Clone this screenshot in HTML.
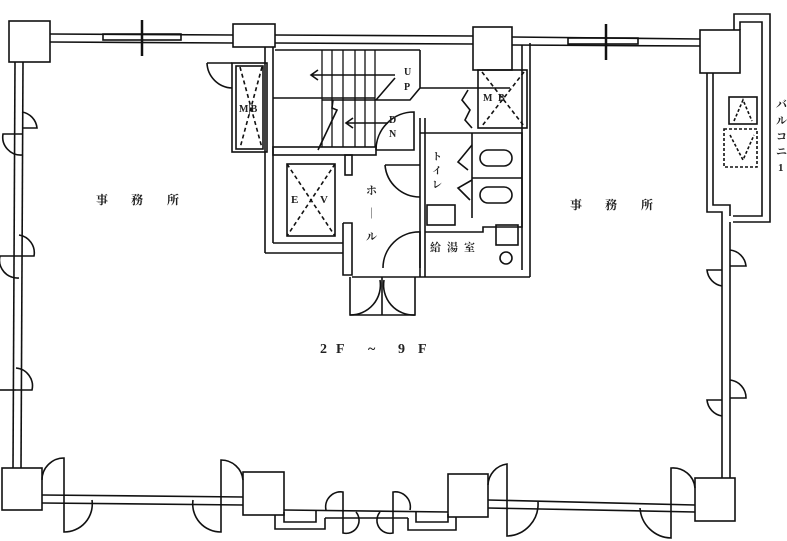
<!DOCTYPE html>
<html><head><meta charset="utf-8"><style>
html,body{margin:0;padding:0;background:#fff;}
svg{display:block;}
text{font-family:"Liberation Serif","Noto Serif CJK SC","Noto Sans CJK JP",serif;fill:#222;}
</style></head><body>
<svg width="787" height="541" viewBox="0 0 787 541" xmlns="http://www.w3.org/2000/svg">
<g fill="none" stroke="#111" stroke-width="1.6">
<line x1="50" y1="34" x2="233" y2="35"/><line x1="50" y1="42" x2="233" y2="43"/>
<line x1="275" y1="35" x2="473" y2="36"/><line x1="275" y1="43" x2="473" y2="44"/>
<line x1="512" y1="37" x2="700" y2="39"/><line x1="512" y1="45" x2="700" y2="46"/>
<rect x="103" y="34" width="78" height="6"/><rect x="568" y="38" width="70" height="6"/>
<line x1="142" y1="20" x2="142" y2="56" stroke-width="2.5"/><line x1="606" y1="24" x2="606" y2="60" stroke-width="2.5"/>
<rect x="9" y="21" width="41" height="41"/>
<rect x="233" y="24" width="42" height="23"/>
<rect x="473" y="27" width="39" height="43"/>
<rect x="700" y="30" width="40" height="43"/>
<rect x="2" y="468" width="40" height="42"/>
<rect x="243" y="472" width="41" height="43"/>
<rect x="448" y="474" width="40" height="43"/>
<rect x="695" y="478" width="40" height="43"/>
<line x1="15" y1="62" x2="13" y2="468"/><line x1="23" y1="62" x2="21" y2="468"/>
<line x1="722" y1="222" x2="722" y2="478"/><line x1="730" y1="222" x2="730" y2="478"/>
<path d="M734 30 V14 H770 V222 H733"/>
<path d="M740 30 V22 H762 V216 H733"/>
<path d="M707 73 V212 H722 V222"/>
<path d="M713 73 V205 H730 V216"/>
<rect x="729" y="97" width="28" height="27"/>
<g stroke-dasharray="3,2"><path d="M734 121 L743 100 L752 121"/><rect x="724" y="129" width="33" height="38"/><path d="M730 135 L743 160 L754 135"/></g>
<line x1="42" y1="495" x2="243" y2="497"/><line x1="42" y1="503" x2="243" y2="505"/>
<line x1="488" y1="500" x2="695" y2="505"/><line x1="488" y1="508" x2="695" y2="512"/>
<line x1="284" y1="510" x2="448" y2="512"/><line x1="325" y1="518" x2="408" y2="518"/>
<path d="M284 512 V522 H316 V510"/><path d="M275 515 V529 H325 V518"/>
<path d="M448 514 V522 H416 V512"/><path d="M456 517 V530 H408 V518"/>
<path d="M42 480 A22 22 0 0 1 64 458 V500"/><path d="M64 500 V532 A28 28 0 0 0 92 500"/>
<path d="M243 480 A22 22 0 0 0 221 460 V505"/><path d="M221 505 V532 A28 28 0 0 1 193 500"/>
<path d="M326 510 A15 15 0 0 1 343 492 V533 A13 13 0 0 0 356 512"/>
<path d="M410 510 A15 15 0 0 0 393 492 V533 A13 13 0 0 1 380 512"/>
<path d="M488 485 A22 22 0 0 1 507 464 V536 A32 32 0 0 0 538 502"/>
<path d="M695 488 A22 22 0 0 0 671 468 V538 A32 32 0 0 1 640 508"/>
<path d="M22 112 A18 18 0 0 1 37 128 H22"/><path d="M22 134 H3 A18 18 0 0 0 22 155"/>
<path d="M19 235 A18 18 0 0 1 34 256 H19"/><path d="M19 256 H0 A18 18 0 0 0 19 278"/>
<path d="M16 368 A18 18 0 0 1 32 390 H16"/><path d="M16 390 H0"/>
<path d="M730 250 A18 18 0 0 1 746 266 H730"/><path d="M722 270 H707 A18 18 0 0 0 722 286"/>
<path d="M730 380 A18 18 0 0 1 746 398 H730"/><path d="M722 400 H707 A18 18 0 0 0 722 416"/>
<line x1="265" y1="47" x2="265" y2="253"/><line x1="273" y1="47" x2="273" y2="243"/>
<path d="M265 253 H343"/><path d="M273 243 H343"/>
<rect x="232" y="63" width="35" height="89"/><rect x="236" y="66" width="27" height="83"/>
<path d="M207 63 H232"/><path d="M207 63 A26 26 0 0 0 232 88"/>
<line x1="275" y1="50" x2="420" y2="50"/>
<rect x="273" y="147" width="103" height="8"/>
<line x1="273" y1="98" x2="375" y2="98"/><line x1="322" y1="100" x2="375" y2="100"/>
<g stroke-width="1.3"><line x1="322" y1="50" x2="322" y2="147"/><line x1="332" y1="50" x2="332" y2="147"/><line x1="343" y1="50" x2="343" y2="147"/><line x1="355" y1="50" x2="355" y2="147"/><line x1="365" y1="50" x2="365" y2="147"/><line x1="375" y1="50" x2="375" y2="147"/></g>
<path d="M312 75 H395 M318 70 L311 75 L318 80"/><path d="M347 123 H388 M353 118 L346 123 L353 128"/>
<path d="M376 100 L395 78 M318 150 L337 110 L332 108 L333 100"/>
<path d="M420 50 V88 H510 M420 88 L410 100 H375"/>
<path d="M376 150 A38 38 0 0 1 414 112 V150 H376"/>
<rect x="345" y="155" width="7" height="20"/>
<rect x="287" y="164" width="48" height="72"/>
<g stroke-dasharray="4,3"><line x1="287" y1="164" x2="335" y2="236"/><line x1="335" y1="164" x2="287" y2="236"/>
<line x1="240" y1="67" x2="262" y2="148"/><line x1="262" y1="67" x2="240" y2="148"/>
<line x1="482" y1="72" x2="524" y2="126"/><line x1="524" y1="72" x2="482" y2="126"/></g>
<path d="M343 223 V275 H352 V223 H343"/>
<path d="M420 118 V277"/><path d="M425 118 V277"/>
<path d="M385 165 A35 35 0 0 0 420 197"/><path d="M385 165 H420"/>
<path d="M383 268 A36 36 0 0 1 420 232 V268"/>
<path d="M352 277 H530"/><path d="M530 43 V277"/><path d="M522 45 V270"/>
<rect x="478" y="70" width="49" height="58"/>
<path d="M468 90 L462 100 L470 110 L465 120 L472 128"/>
<path d="M420 133 H522 V227 H483 V232 H425"/>
<line x1="472" y1="133" x2="472" y2="218"/>
<line x1="472" y1="178" x2="522" y2="178"/>
<rect x="480" y="150" width="32" height="16" rx="8"/><rect x="480" y="187" width="32" height="16" rx="8"/>
<path d="M472 145 L458 162 L468 170 M472 180 L458 188 L470 200"/>
<rect x="427" y="205" width="28" height="20"/>
<rect x="496" y="225" width="22" height="20"/><circle cx="506" cy="258" r="6"/>
<path d="M350 277 V315 H415 V277"/><line x1="382" y1="277" x2="382" y2="315"/>
<path d="M350 315 A30 30 0 0 0 380 280"/><path d="M415 315 A30 30 0 0 1 384 280"/>
</g>
<g font-size="12" font-weight="bold">
<text x="96" y="204">事</text><text x="131" y="204">務</text><text x="167" y="204">所</text>
<text x="570" y="209">事</text><text x="605" y="209">務</text><text x="641" y="209">所</text>
<text x="430" y="251" font-size="11">給</text><text x="447" y="251" font-size="11">湯</text><text x="464" y="251" font-size="11">室</text>
<text x="366" y="194" font-size="11">ホ</text><text x="366" y="217" font-size="11">｜</text><text x="366" y="240" font-size="11">ル</text>
<text x="432" y="160" font-size="10">ト</text><text x="432" y="174" font-size="10">イ</text><text x="432" y="188" font-size="10">レ</text>
<text x="239" y="112" font-size="10">M|B</text><text x="483" y="101" font-size="10">M</text><text x="498" y="101" font-size="10">B</text>
<text x="291" y="203" font-size="11">E</text><text x="320" y="203" font-size="11">V</text>
<text x="404" y="75" font-size="10">U</text><text x="404" y="90" font-size="10">P</text>
<text x="389" y="123" font-size="10">D</text><text x="389" y="137" font-size="10">N</text>
<text x="776" y="108" font-size="11">バ</text><text x="776" y="124" font-size="11">ル</text><text x="776" y="140" font-size="11">コ</text><text x="776" y="155" font-size="11">ニ</text><text x="778" y="171" font-size="11">1</text>
<text x="320" y="353" font-size="14">2</text><text x="336" y="353" font-size="14">F</text>
<text x="368" y="353" font-size="14">~</text>
<text x="398" y="353" font-size="14">9</text><text x="418" y="353" font-size="14">F</text>
</g>
</svg>
</body></html>
